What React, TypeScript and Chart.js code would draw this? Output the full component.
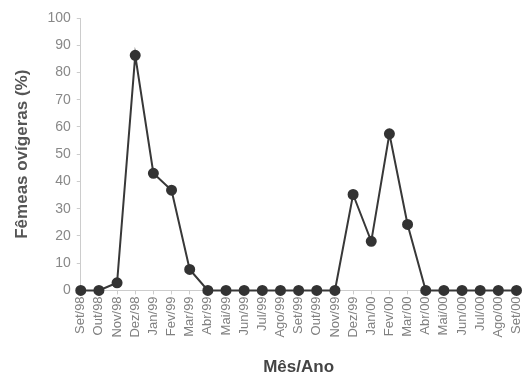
import React, { useEffect, useRef } from "react";
import { Chart, registerables } from "chart.js";

Chart.register(...registerables);

const months = [
  "Set/98", "Out/98", "Nov/98", "Dez/98", "Jan/99", "Fev/99", "Mar/99", "Abr/99",
  "Mai/99", "Jun/99", "Jul/99", "Ago/99", "Set/99", "Out/99", "Nov/99", "Dez/99",
  "Jan/00", "Fev/00", "Mar/00", "Abr/00", "Mai/00", "Jun/00", "Jul/00", "Ago/00", "Set/00",
];

const ovigerousFemales = [
  0, 0, 2.8, 86.3, 43.0, 36.8, 7.7, 0,
  0, 0, 0, 0, 0, 0, 0, 35.2,
  18.0, 57.5, 24.2, 0, 0, 0, 0, 0, 0,
];

const yTitle = "Fêmeas ovígeras (%)";
const xTitle = "Mês/Ano";

export default function App() {
  const ref = useRef<HTMLCanvasElement>(null);

  useEffect(() => {
    document.body.style.margin = "0";
    const ctx = ref.current!;
    const chart = new Chart(ctx, {
      type: "line",
      data: {
        labels: months,
        datasets: [
          {
            data: ovigerousFemales,
            borderColor: "#383838",
            backgroundColor: "#333",
            borderWidth: 2,
            pointRadius: 4.5,
            pointBackgroundColor: "#333",
            pointBorderColor: "#333",
            tension: 0,
            clip: false as any,
          },
        ],
      },
      options: {
        animation: false,
        responsive: false,
        maintainAspectRatio: false,
        layout: { padding: { left: 12, right: 0, top: 18, bottom: -2 } },
        plugins: { legend: { display: false }, tooltip: { enabled: false } },
        scales: {
          x: {
            offset: false,
            afterFit: (s: any) => {
              s.paddingRight = 0;
              s.paddingLeft = 0;
            },
            grid: {
              drawOnChartArea: false,
              drawTicks: true,
              tickLength: 4,
              color: "#cccccc",
            },
            border: { color: "#cccccc" },
            ticks: {
              autoSkip: false,
              maxRotation: 90,
              minRotation: 90,
              color: "#808080",
              padding: 2,
              font: { family: "Liberation Sans, Arial, sans-serif", size: 13 },
            },
            title: {
              display: true,
              text: xTitle,
              color: "#444",
              padding: { top: 18, bottom: 0 },
              font: { family: "Liberation Sans, Arial, sans-serif", size: 17, weight: "bold" },
            },
          },
          y: {
            min: 0,
            max: 100,
            grid: {
              drawOnChartArea: false,
              drawTicks: true,
              tickLength: 4,
              color: "#cccccc",
            },
            border: { color: "#cccccc" },
            ticks: {
              stepSize: 10,
              color: "#888",
              padding: 6,
              font: { family: "Liberation Sans, Arial, sans-serif", size: 14 },
            },
            title: {
              display: true,
              text: yTitle,
              color: "#555",
              padding: { top: 0, bottom: 9 },
              font: { family: "Liberation Sans, Arial, sans-serif", size: 17, weight: "bold" },
            },
          },
        },
      },
    });
    return () => chart.destroy();
  }, []);

  return (
    <div style={{ width: 523, height: 376, background: "#fff" }}>
      <canvas ref={ref} width={523} height={376} style={{ display: "block" }} />
    </div>
  );
}
